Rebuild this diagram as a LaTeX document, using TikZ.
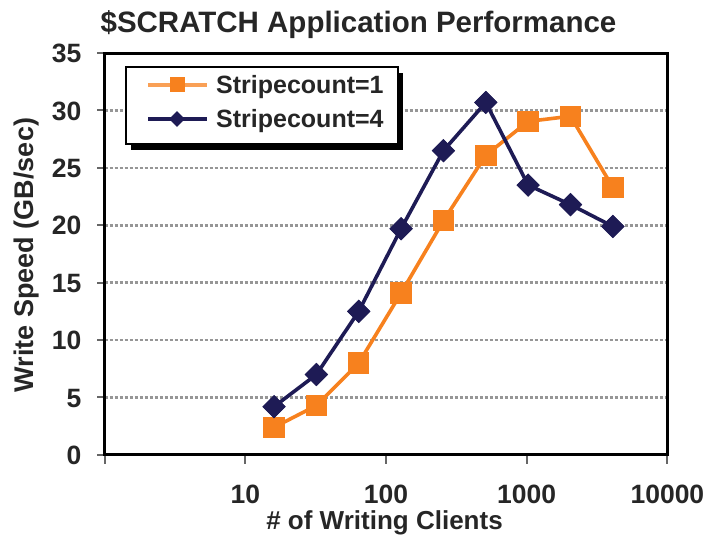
\documentclass[tikz,border=0pt]{standalone}
\usepackage{fontspec}
\setmainfont{Liberation Sans}
\usetikzlibrary{shapes.geometric}
\definecolor{orng}{RGB}{247,129,30}
\definecolor{navyc}{RGB}{30,27,85}
\definecolor{gridc}{RGB}{150,150,150}
\begin{document}
\begin{tikzpicture}[x=1pt,y=1pt,
  gridline/.style={gridc, line width=2.6pt, dash pattern=on 3pt off 2pt},
  frameline/.style={black, line width=3pt},
  tickline/.style={gray!80!black, line width=2pt},
  ticklbl/.style={font=\fontsize{26.5}{28}\selectfont\bfseries, text=black!85, inner sep=0pt},
  titlelbl/.style={font=\fontsize{29.5}{31}\selectfont\bfseries, text=black!85, inner sep=0pt},
  axtitle/.style={font=\fontsize{27}{29}\selectfont\bfseries, text=black!85, inner sep=0pt},
  xaxtitle/.style={font=\fontsize{26}{28}\selectfont\bfseries, text=black!85, inner sep=0pt},
  leglbl/.style={font=\fontsize{25}{27}\selectfont\bfseries, text=black!85, inner sep=0pt},
  osq/.style={rectangle, fill=orng, minimum size=21pt, inner sep=0pt},
  ndia/.style={diamond, fill=navyc, minimum size=23pt, inner sep=0pt},
  oline/.style={orng, line width=3.6pt},
  nline/.style={navyc, line width=3.6pt},
  legbox/.style={rectangle, draw=black, line width=1.3pt, fill=white, inner sep=0pt},
  legshadow/.style={rectangle, fill=black, inner sep=0pt}
]
\useasboundingbox (0,0) rectangle (707,536);
\fill[white] (0,0) rectangle (707,536);

\node[titlelbl, anchor=base] (title) at (358.5,503) {\$SCRATCH Application Performance};

\begin{scope}[shift={(104.6,81.1)}, x=140.7pt, y=11.48pt]
  \foreach \v in {5,10,...,30} {
    \draw[gridline] (0,\v) -- (4,\v);
  }
  \foreach \v in {0,5,...,35} {
    \draw[tickline] (0,\v) -- ++(-8pt,0);
    \node[ticklbl, anchor=base east, xshift=-23pt, yshift=-9.6pt] (yl\v) at (0,\v) {\v};
  }
  \foreach \d in {0,...,4} {
    \draw[tickline] (\d,0) -- ++(0,-9pt);
  }
  \node[ticklbl, anchor=base, yshift=-49pt] (xl1) at (1,0) {10};
  \node[ticklbl, anchor=base, yshift=-49pt] (xl2) at (2,0) {100};
  \node[ticklbl, anchor=base, yshift=-49pt] (xl3) at (3,0) {1000};
  \node[ticklbl, anchor=base, yshift=-49pt] (xl4) at (4,0) {10000};
  \draw[frameline] (0,0) rectangle (4,35);

  % Stripecount=1
  \node[osq] (o1) at (1.20412,2.4) {};
  \node[osq] (o2) at (1.50515,4.3) {};
  \node[osq] (o3) at (1.80618,8.0) {};
  \node[osq] (o4) at (2.10721,14.1) {};
  \node[osq] (o5) at (2.40824,20.4) {};
  \node[osq] (o6) at (2.70927,26.1) {};
  \node[osq] (o7) at (3.01030,29.05) {};
  \node[osq] (o8) at (3.31133,29.5) {};
  \node[osq] (o9) at (3.61236,23.3) {};
  \draw[oline] (o1.center) -- (o2.center) -- (o3.center) -- (o4.center) -- (o5.center) -- (o6.center) -- (o7.center) -- (o8.center) -- (o9.center);
  \foreach \i in {1,...,9} { \fill[orng] (o\i.south west) rectangle (o\i.north east); }

  % Stripecount=4
  \node[ndia] (n1) at (1.20412,4.2) {};
  \node[ndia] (n2) at (1.50515,7.0) {};
  \node[ndia] (n3) at (1.80618,12.5) {};
  \node[ndia] (n4) at (2.10721,19.7) {};
  \node[ndia] (n5) at (2.40824,26.5) {};
  \node[ndia] (n6) at (2.70927,30.7) {};
  \node[ndia] (n7) at (3.01030,23.5) {};
  \node[ndia] (n8) at (3.31133,21.8) {};
  \node[ndia] (n9) at (3.61236,19.9) {};
  \draw[nline] (n1.center) -- (n2.center) -- (n3.center) -- (n4.center) -- (n5.center) -- (n6.center) -- (n7.center) -- (n8.center) -- (n9.center);
  \foreach \i in {1,...,9} { \fill[navyc] (n\i.north) -- (n\i.east) -- (n\i.south) -- (n\i.west) -- cycle; }
\end{scope}

% legend
\node[legshadow, minimum width=272pt, minimum height=77pt] (legsh) at (267,424) {};
\node[legbox, minimum width=272pt, minimum height=77pt] (leg) at (262,430.5) {};
\coordinate (l1a) at (148,451); \coordinate (l1b) at (207,451);
\coordinate (l2a) at (148,417); \coordinate (l2b) at (207,417);
\draw[oline, orng!75!white] (l1a) -- (l1b);
\node[osq, minimum size=15pt] (lm1) at (177,451) {};
\draw[nline] (l2a) -- (l2b);
\node[ndia, minimum size=16pt] (lm2) at (177,417) {};
\node[leglbl, anchor=base west] (lt1) at (216,442) {Stripecount=1};
\node[leglbl, anchor=base west] (lt2) at (216,408) {Stripecount=4};

% axis titles
\node[xaxtitle, anchor=base] (xtitle) at (384.5,6.5) {\# of Writing Clients};
\node[axtitle, rotate=90] (ytitle) at (27,281) {Write Speed (GB/sec)};
\end{tikzpicture}
\end{document}
